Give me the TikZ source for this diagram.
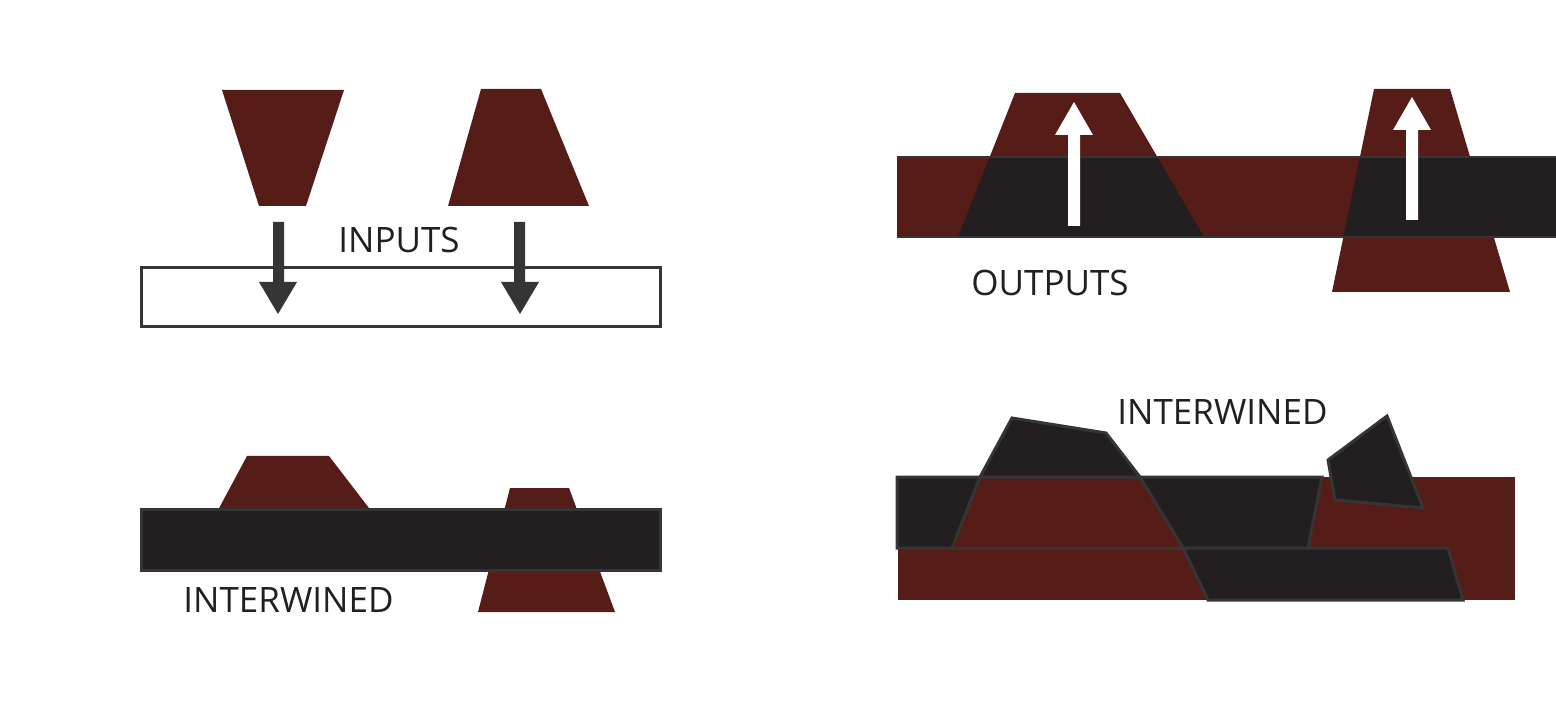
\documentclass[tikz,border=0pt]{standalone}
\usepackage{fontspec}
\setmainfont{Open Sans}
\definecolor{rockFill}{HTML}{561C18}
\definecolor{slabFill}{HTML}{231F20}
\definecolor{slabDraw}{HTML}{353535}
\definecolor{labelText}{HTML}{231F20}
\tikzset{
  rock/.style   ={fill=rockFill},
  slab/.style   ={fill=slabFill, draw=slabDraw, line width=1.5pt, line join=miter},
  darkfill/.style={fill=slabFill},
  frame/.style  ={draw=slabDraw, line width=1.5pt},
  edge/.style   ={draw=slabDraw, line width=0.6pt},
  downflow/.style={fill=slabDraw},
  upflow/.style ={fill=white},
  tag/.style    ={font=\fontsize{17.5}{20}\selectfont, text=labelText, inner sep=0pt, anchor=base west},
}

\begin{document}
\begin{tikzpicture}[x=0.5pt, y=-0.5pt]
  \useasboundingbox (0,0) rectangle (1556,710);

  % top left: two blocks above an empty frame
  \fill[rock] (222,90) -- (344,90) -- (306,206) -- (259,206) -- cycle;
  \fill[rock] (481,89) -- (541,89) -- (589,206) -- (448,206) -- cycle;
  \draw[frame] (141,268) rectangle (660,327);
  \fill[downflow] (273,222) -- (284,222) -- (284,282) -- (297,282) -- (278,314)
                  -- (259,282) -- (273,282) -- cycle;
  \fill[downflow] (514,222) -- (525,222) -- (525,282) -- (539,282) -- (520,314)
                  -- (501,282) -- (514,282) -- cycle;
  \node[tag] (inputs) at (338,253) {INPUTS};

  % top right: band with blocks passing through
  \fill[rock] (1015,93) -- (1120,93) -- (1204,237) -- (958,237) -- cycle;
  \fill[rock] (1374,89) -- (1450,89) -- (1510,292) -- (1332,292) -- cycle;
  \fill[rock] (897,157) rectangle (1556,237);
  \begin{scope}
    \clip (897,157) rectangle (1556,237);
    \fill[darkfill] (1015,93) -- (1120,93) -- (1204,237) -- (958,237) -- cycle;
    \fill[darkfill] (1374,89) -- (1556,89) -- (1556,292) -- (1332,292) -- cycle;
  \end{scope}
  \draw[edge] (897,157) -- (1556,157);
  \draw[edge] (897,237) -- (1556,237);
  \fill[upflow] (1068,226) -- (1080,226) -- (1080,135) -- (1093,135) -- (1074,102)
                -- (1055,135) -- (1068,135) -- cycle;
  \fill[upflow] (1406,220) -- (1418,220) -- (1418,130) -- (1431,130) -- (1412,97)
                -- (1393,130) -- (1406,130) -- cycle;
  \node[tag] (outputs) at (971,296) {OUTPUTS};

  % bottom left: blocks caught in a dark slab
  \fill[rock] (247,456) -- (329,456) -- (372,512) -- (217,512) -- cycle;
  \fill[rock] (510,488) -- (569,488) -- (615,612) -- (478,612) -- cycle;
  \draw[slab] (141,509) rectangle (660,570);
  \node[tag] (mixleft) at (183,612) {INTERWINED};

  % bottom right: layers cut into pieces
  \fill[rock] (898,477) rectangle (1515,600);
  \draw[slab] (897,477) -- (980,477) -- (952,548) -- (897,548) -- cycle;
  \draw[slab] (1140,477) -- (1322,477) -- (1308,548) -- (1183,548) -- cycle;
  \draw[slab] (1183,548) -- (1448,548) -- (1463,600) -- (1208,600) -- cycle;
  \draw[slab] (1012,418) -- (1106,433) -- (1140,477) -- (980,477) -- cycle;
  \draw[slab] (1328,460) -- (1387,416) -- (1423,508) -- (1335,500) -- cycle;
  \draw[frame] (952,548) -- (1183,548);
  \node[tag] (mixright) at (1117,425) {INTERWINED};
\end{tikzpicture}
\end{document}
